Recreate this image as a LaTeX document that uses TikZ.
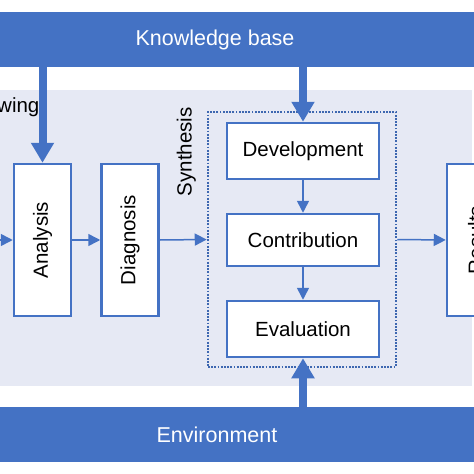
\documentclass[tikz,border=0pt]{standalone}
\usepackage{fontspec}
\setmainfont{Liberation Sans}
\usetikzlibrary{arrows.meta}

\definecolor{kbblue}{RGB}{68,114,196}
\definecolor{panelgray}{RGB}{230,233,244}

\tikzset{
  band/.style={fill=kbblue, inner sep=0pt, outer sep=0pt, minimum width=474pt, minimum height=55pt},
  bandtext/.style={text=white, font=\fontsize{21.5}{25}\selectfont, inner sep=0pt},
  stagebox/.style={draw=kbblue, line width=2.5pt, fill=white, inner sep=0pt, font=\fontsize{20.5}{24}\selectfont},
  tallbox/.style={stagebox, minimum width=57pt, minimum height=152pt},
  widebox/.style={stagebox, minimum width=152pt, minimum height=56pt},
  thinarrow/.style={draw=kbblue, line width=1.5pt, -{Triangle[width=12pt,length=12pt]}},
  thickarrow/.style={draw=kbblue, line width=8pt, -{Triangle[width=22pt,length=20pt]}},
}

\begin{document}
\begin{tikzpicture}[x=1pt,y=-1pt]
\useasboundingbox (0,0) rectangle (474,474);
\clip (0,0) rectangle (474,474);

% Background panel and the two bands
\fill[panelgray] (0,90) rectangle (472,386);
\node[band] (kb) at (237,39.5) {};
\node[bandtext] (kbtext) at (215,40) {Knowledge base};
\node[band] (env) at (237,434.5) {};
\node[bandtext] (envtext) at (217,435) {Environment};

% Cut-off label at the left
\node[anchor=base west, inner sep=0pt, font=\fontsize{20.5}{24}\selectfont] (rev) at (-3,112) {wing};

% Stages
\node[tallbox] (ana) at (42.5,240) {\rotatebox{90}{Analysis}};
\node[tallbox] (dia) at (130,240) {\rotatebox{90}{Diagnosis}};
\node[tallbox] (res) at (475.5,240) {\rotatebox{90}{Results}};

% Synthesis group
\node[draw=kbblue!90!black, line width=2.5pt, dash pattern=on 1.8pt off 1.4pt, inner sep=0pt,
  minimum width=188pt, minimum height=255pt] (syn) at (302,239.5) {};
\node[rotate=90, anchor=south east, inner sep=0pt, font=\fontsize{20.5}{24}\selectfont] (syntext) at (196,107) {Synthesis};
\node[widebox] (dev) at (303,151) {Development};
\node[widebox, minimum height=52pt] (con) at (303,240) {Contribution};
\node[widebox] (eva) at (303,329) {Evaluation};

% Connectors
\coordinate (in) at (-5,240);
\draw[thinarrow] (in) -- (ana.west);
\draw[thinarrow] (ana.east) -- (dia.west);
\draw[thinarrow] (dia.east) -- (syn.west);
\draw[thinarrow] (syn.east) -- (res.west);
\draw[thinarrow] (dev.south) -- (con.north);
\draw[thinarrow] (con.south) -- (eva.north);

% Inputs from the bands
\draw[thickarrow] (ana.north |- kb.south) -- (ana.north);
\draw[thickarrow] (dev.north |- kb.south) -- (dev.north);
\draw[thickarrow] (eva.south |- env.north) -- (eva.south);

\end{tikzpicture}
\end{document}
